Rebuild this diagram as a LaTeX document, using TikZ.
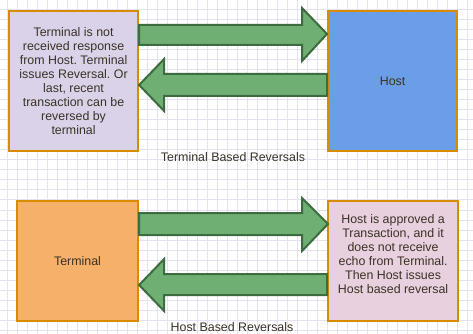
\documentclass[tikz,border=0pt]{standalone}
\usepackage{fontspec}
\setmainfont{Liberation Sans}
\usetikzlibrary{calc}
\frenchspacing
\definecolor{gridc}{HTML}{E3E1F3}
\definecolor{boxline}{HTML}{D98C00}
\definecolor{lavfill}{HTML}{DAD2E8}
\definecolor{hostfill}{HTML}{6A9EE8}
\definecolor{termfill}{HTML}{F5B169}
\definecolor{pinkfill}{HTML}{E8D0DE}
\definecolor{arrfill}{HTML}{6FAF73}
\definecolor{arrline}{HTML}{3C6C3F}
\definecolor{txt}{HTML}{3A3226}
\begin{document}
\begin{tikzpicture}[x=0.75pt,y=-0.75pt,
  box/.style={draw=boxline,line width=1.6pt,minimum width=129*0.75pt,anchor=north west,inner sep=0pt},
  lbl/.style={text=txt,font=\fontsize{9.3}{10.5}\selectfont,align=center,inner sep=0pt},
  fat/.style={fill=arrfill,draw=arrline,line width=1.5pt,line join=miter}]
\useasboundingbox (0,0) rectangle (473,334);
\fill[white] (0,0) rectangle (473,334);
\foreach \i in {7,17,...,467} \draw[gridc,line width=0.75pt] (\i,0) -- (\i,334);
\foreach \j in {0,10,...,330} \draw[gridc,line width=0.75pt] (0,\j) -- (473,\j);
% top section
\node[box,fill=lavfill,minimum height=140*0.75pt] (t1) at (8,10) {};
\node[box,fill=hostfill,minimum height=140*0.75pt] (h1) at (327,10) {};
\node[lbl] (t1txt) at (t1.center) {Terminal is not\\received response\\from Host. Terminal\\issues Reversal. Or\\last, recent\\transaction can be\\reversed by\\terminal};
\node[lbl] (h1txt) at (h1.center) {Host};
\draw[fat] ($(t1.north east)+(0,15)$) -- ($(h1.north west)+(-25,15)$) -- ($(h1.north west)+(-25,-2)$)
  -- ($(h1.north west)+(0,24)$) -- ($(h1.north west)+(-25,51)$) -- ($(h1.north west)+(-25,35)$)
  -- ($(t1.north east)+(0,35)$) -- cycle;
\draw[fat] ($(h1.north west)+(0,64)$) -- ($(t1.north east)+(25,64)$) -- ($(t1.north east)+(25,49)$)
  -- ($(t1.north east)+(0,75)$) -- ($(t1.north east)+(25,101)$) -- ($(t1.north east)+(25,86)$)
  -- ($(h1.north west)+(0,86)$) -- cycle;
\node[lbl] (cap1) at (233,157) {Terminal Based Reversals};
% bottom section
\node[box,fill=termfill,minimum height=120*0.75pt,minimum width=121*0.75pt] (t2) at (16,200) {};
\node[box,fill=pinkfill,minimum height=120*0.75pt,minimum width=130*0.75pt] (h2) at (327,200) {};
\node[lbl] (t2txt) at (t2.center) {Terminal};
\node[lbl] (h2txt) at ($(h2.center)+(0,-7)$) {Host is approved a\\Transaction, and it\\does not receive\\echo from Terminal.\\Then Host issues\\Host based reversal};
\draw[fat] ($(t2.north east)+(0,13)$) -- ($(h2.north west)+(-25,13)$) -- ($(h2.north west)+(-25,-2)$)
  -- ($(h2.north west)+(1,24)$) -- ($(h2.north west)+(-25,51)$) -- ($(h2.north west)+(-25,35)$)
  -- ($(t2.north east)+(0,35)$) -- cycle;
\draw[fat] ($(h2.north west)+(0,74)$) -- ($(t2.north east)+(25,74)$) -- ($(t2.north east)+(25,59)$)
  -- ($(t2.north east)+(0,85)$) -- ($(t2.north east)+(25,111)$) -- ($(t2.north east)+(25,95)$)
  -- ($(h2.north west)+(0,95)$) -- cycle;
\node[lbl] (cap2) at (232,327) {Host Based Reversals};
\end{tikzpicture}
\end{document}
